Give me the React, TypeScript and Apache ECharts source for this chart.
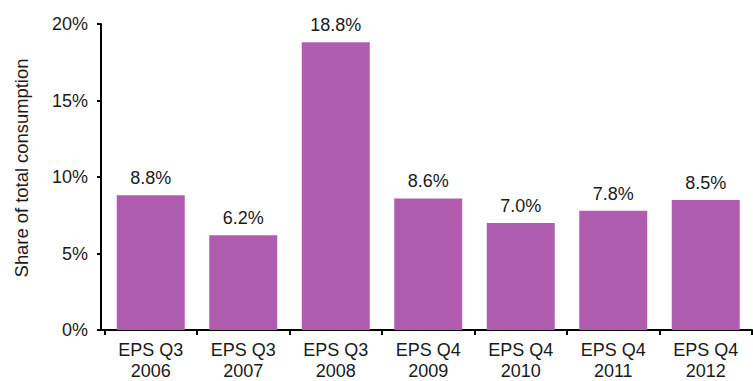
import React, { useEffect, useRef } from "react";
import * as echarts from "echarts";

const categories = [
  "EPS Q3\n2006",
  "EPS Q3\n2007",
  "EPS Q3\n2008",
  "EPS Q4\n2009",
  "EPS Q4\n2010",
  "EPS Q4\n2011",
  "EPS Q4\n2012",
];
const shares = [8.8, 6.2, 18.8, 8.6, 7.0, 7.8, 8.5];
const yTicks = { min: 0, max: 20, interval: 5 };
const yTitle = "Share of total consumption";

export default function App() {
  const ref = useRef<HTMLDivElement>(null);
  useEffect(() => {
    if (!ref.current) return;
    const chart = echarts.init(ref.current, undefined, { renderer: "svg" });
    const font = "Liberation Sans, Arial, sans-serif";
    chart.setOption({
      animation: false,
      textStyle: { fontFamily: font },
      grid: { left: 104.5, right: 1, top: 24, bottom: 51 },
      graphic: [
        {
          type: "text",
          x: 21,
          y: 168,
          rotation: Math.PI / 2,
          style: {
            text: yTitle,
            font: `18.4px ${font}`,
            fill: "#1a1a1a",
            textAlign: "center",
            textVerticalAlign: "middle",
          },
        },
        {
          type: "line",
          shape: { x1: 100, y1: 330, x2: 105, y2: 330 },
          style: { stroke: "#000", lineWidth: 2 },
        },
      ],
      xAxis: {
        type: "category",
        data: categories,
        axisLine: { lineStyle: { color: "#000", width: 2 } },
        axisTick: { show: true, alignWithLabel: false, length: 5, lineStyle: { color: "#000", width: 2 } },
        axisLabel: {
          color: "#1a1a1a",
          fontSize: 18,
          lineHeight: 21,
          margin: 9,
          fontFamily: font,
          interval: 0,
        },
      },
      yAxis: {
        type: "value",
        min: yTicks.min,
        max: yTicks.max,
        interval: yTicks.interval,
        offset: 3.5,
        splitLine: { show: false },
        axisLine: { show: true, lineStyle: { color: "#000", width: 2 } },
        axisTick: { show: true, length: 4, lineStyle: { color: "#000", width: 2 } },
        axisLabel: {
          color: "#1a1a1a",
          fontSize: 18,
          margin: 13,
          fontFamily: font,
          formatter: "{value}%",
        },
      },
      series: [
        {
          type: "bar",
          data: shares,
          barWidth: 68,
          itemStyle: { color: "#B05DB0" },
          label: {
            show: true,
            position: "top",
            distance: 8,
            color: "#1a1a1a",
            fontSize: 18,
            fontFamily: font,
            formatter: (p: any) => `${Number(p.value).toFixed(1)}%`,
          },
        },
      ],
    });
    return () => chart.dispose();
  }, []);
  return <div ref={ref} style={{ width: 753, height: 381, position: "absolute", left: 0, top: 0 }} />;
}
